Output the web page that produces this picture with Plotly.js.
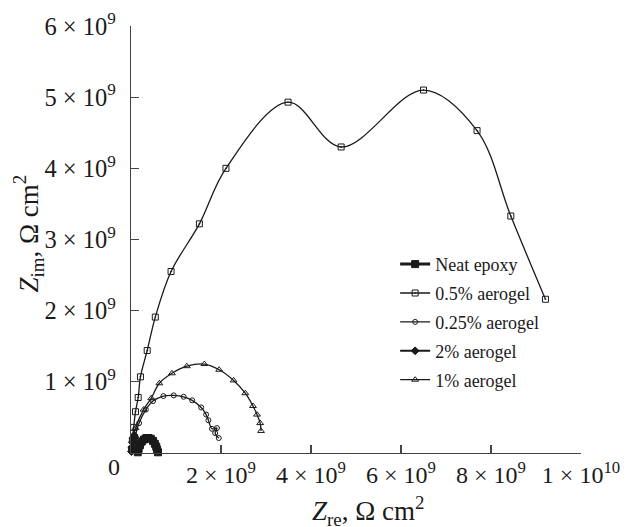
<!DOCTYPE html>
<html>
<head>
<meta charset="utf-8">
<script src="https://cdn.plot.ly/plotly-3.0.1.min.js"></script>
<style>html,body{margin:0;padding:0;background:#fff;}#chart{width:636px;height:527px;}</style>
</head>
<body>
<div id="chart"></div>
<script>
// Values in units of 1e9 ohm cm^2
const seriesNames = ["Neat epoxy", "0.5% aerogel", "0.25% aerogel", "2% aerogel", "1% aerogel"];

const neatX = [0.15, 0.17, 0.20, 0.24, 0.29, 0.34, 0.39, 0.44, 0.49, 0.53, 0.56, 0.58, 0.60];
const neatY = [0.01, 0.06, 0.11, 0.16, 0.19, 0.21, 0.21, 0.20, 0.17, 0.13, 0.09, 0.05, 0.01];

const a05X = [0.01, 0.03, 0.06, 0.10, 0.16, 0.21, 0.36, 0.54, 0.89, 1.52, 2.11, 3.49, 4.67, 6.50, 7.69, 8.44, 9.21];
const a05Y = [0.05, 0.18, 0.36, 0.58, 0.78, 1.07, 1.44, 1.91, 2.55, 3.22, 4.00, 4.93, 4.30, 5.10, 4.53, 3.33, 2.16];

const a025X = [0.02, 0.08, 0.18, 0.33, 0.49, 0.72, 0.95, 1.17, 1.36, 1.56, 1.67, 1.72, 1.80, 1.91, 1.87, 1.95];
const a025Y = [0.05, 0.20, 0.42, 0.61, 0.73, 0.80, 0.81, 0.79, 0.74, 0.64, 0.54, 0.46, 0.34, 0.35, 0.28, 0.21];

const a2X = [0.01, 0.02, 0.03, 0.05, 0.07, 0.09, 0.11, 0.13];
const a2Y = [0.02, 0.08, 0.15, 0.21, 0.25, 0.22, 0.15, 0.06];

const a1X = [0.02, 0.10, 0.28, 0.45, 0.63, 0.91, 1.24, 1.63, 1.96, 2.28, 2.54, 2.71, 2.80, 2.87, 2.89];
const a1Y = [0.10, 0.35, 0.61, 0.77, 0.98, 1.12, 1.22, 1.25, 1.17, 1.02, 0.84, 0.66, 0.54, 0.42, 0.31];

const xTickVals = [2, 4, 6, 8, 10];
const xTickText = ["2 × 10<sup>9</sup>", "4 × 10<sup>9</sup>", "6 × 10<sup>9</sup>", "8 × 10<sup>9</sup>", "1 × 10<sup>10</sup>"];
const yTickVals = [1, 2, 3, 4, 5, 6];
const yTickText = ["1 × 10<sup>9</sup>", "2 × 10<sup>9</sup>", "3 × 10<sup>9</sup>", "4 × 10<sup>9</sup>", "5 × 10<sup>9</sup>", "6 × 10<sup>9</sup>"];

const scale = 1e9;
const sc = a => a.map(v => v * scale);
const ink = "#1a1a1a";
const serif = "Liberation Serif";

function tr(name, xs, ys, symbol, size, lw, group) {
  return {
    type: "scatter", mode: "lines+markers", name: name,
    x: sc(xs), y: sc(ys), legendgroup: group,
    line: {color: ink, width: lw, shape: "spline", smoothing: 1},
    marker: {symbol: symbol, size: size, color: ink, line: {color: ink, width: 1}},
    cliponaxis: false
  };
}

const data = [
  tr(seriesNames[0], neatX, neatY, "square", 7, 3, "g0"),
  tr(seriesNames[1], a05X, a05Y, "square-open-dot", 6, 1.3, "g1"),
  tr(seriesNames[2], a025X, a025Y, "circle-open", 5, 1.3, "g2"),
  tr(seriesNames[3], a2X, a2Y, "diamond", 6, 2, "g3"),
  tr(seriesNames[4], a1X, a1Y, "triangle-up-open", 6, 1.3, "g4")
];

const axisCommon = {
  showgrid: false, zeroline: false, showline: true,
  linecolor: "#444", linewidth: 1.2,
  ticks: "inside", ticklen: 8, tickwidth: 1.2, tickcolor: "#444"
};

const layout = {
  width: 636, height: 527,
  margin: {l: 131, r: 55, t: 26, b: 74},
  paper_bgcolor: "#fff", plot_bgcolor: "#fff",
  font: {family: serif, color: ink},
  showlegend: true,
  legend: {
    x: 0.587, y: 0.485, xanchor: "left", yanchor: "top",
    font: {family: serif, size: 18, color: ink},
    bgcolor: "rgba(0,0,0,0)", traceorder: "grouped", tracegroupgap: 2.5,
    itemwidth: 30
  },
  xaxis: Object.assign({}, axisCommon, {
    range: [0, 1e10], tickvals: sc(xTickVals), ticktext: xTickText, ticklabelstandoff: 0,
    tickfont: {family: serif, size: 24, color: ink}
  }),
  yaxis: Object.assign({}, axisCommon, {
    range: [0, 6e9], tickvals: sc(yTickVals), ticktext: yTickText, ticklabelstandoff: 9,
    tickfont: {family: serif, size: 24.5, color: ink}
  }),
  annotations: [
    {text: "0", xref: "paper", yref: "paper", x: -0.038, y: -0.033, xanchor: "center", yanchor: "middle",
     showarrow: false, font: {family: serif, size: 24, color: ink}},
    {text: "<i>Z</i><sub>re</sub>, Ω cm<sup>2</sup>", xref: "paper", yref: "paper", x: 0.5, xshift: 12,
     y: 0, yshift: -58, xanchor: "center", yanchor: "middle", showarrow: false,
     font: {family: serif, size: 27, color: ink}},
    {text: "<i>Z</i><sub>im</sub>, Ω cm<sup>2</sup>", xref: "paper", yref: "paper", x: 0, xshift: -103,
     y: 0.5, yshift: 6, xanchor: "center", yanchor: "middle", textangle: -90, showarrow: false,
     font: {family: serif, size: 27, color: ink}}
  ]
};

Plotly.newPlot("chart", data, layout, {staticPlot: true, displayModeBar: false});
</script>
</body>
</html>
